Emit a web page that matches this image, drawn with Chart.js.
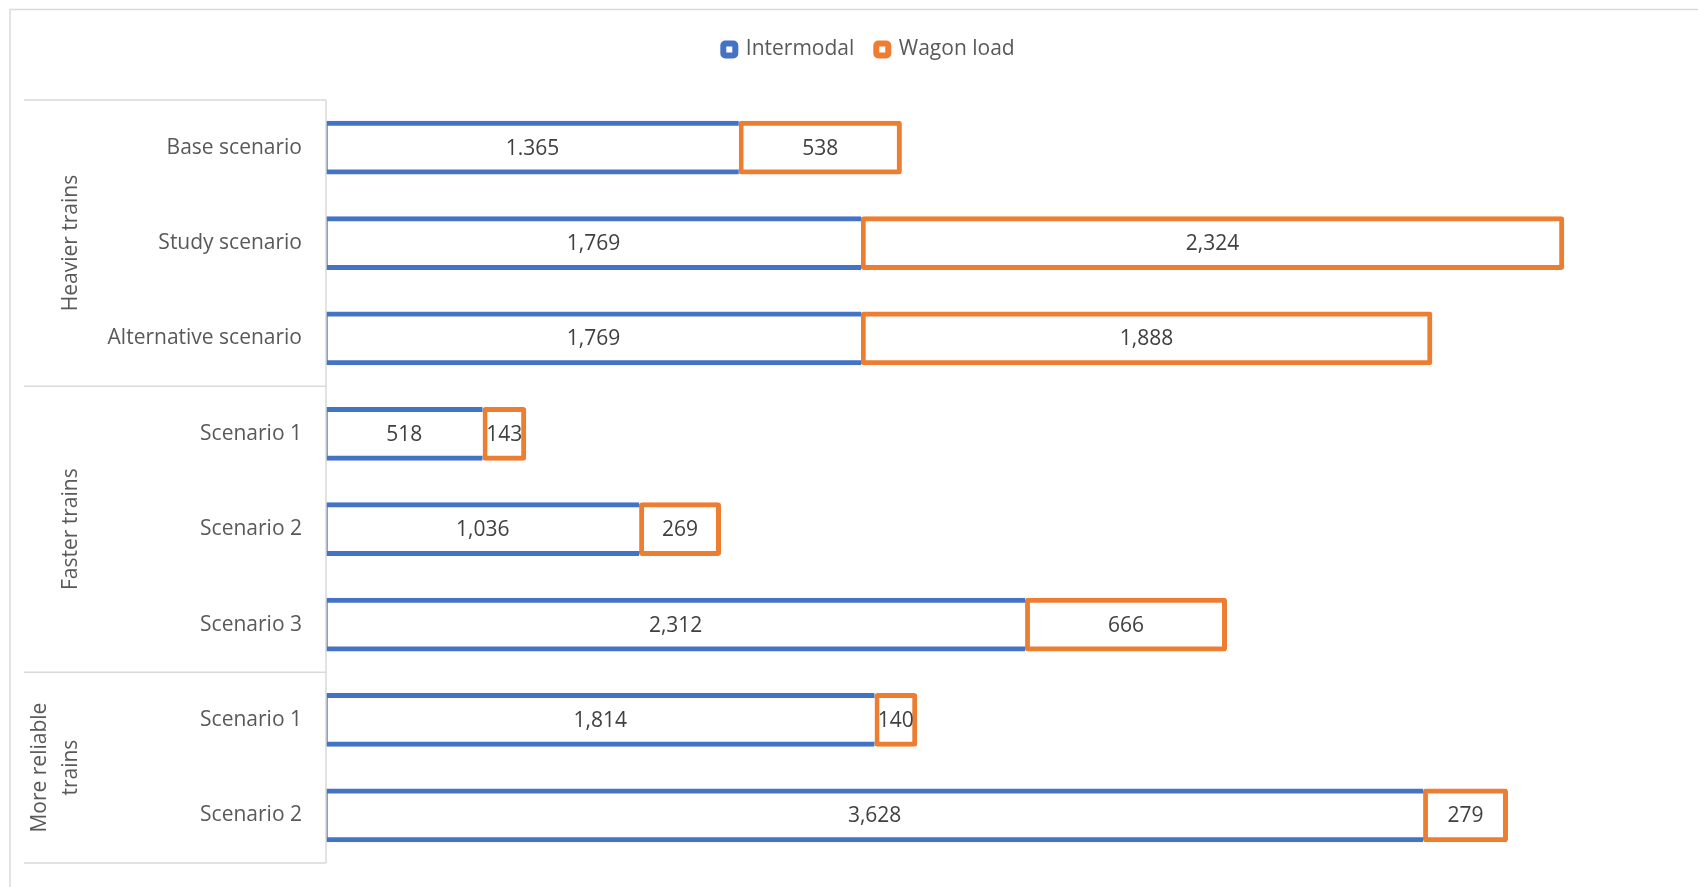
<!DOCTYPE html>
<html>
<head>
<meta charset="utf-8">
<script src="https://cdn.jsdelivr.net/npm/chart.js@4/dist/chart.umd.min.js"></script>
<style>
  html, body { margin: 0; padding: 0; background: #ffffff; }
  #wrap { width: 1698px; height: 887px; position: relative; }
  canvas { display: block; }
</style>
</head>
<body>
<div id="wrap"><canvas id="chart" width="1698" height="887"></canvas></div>
<script>
// Scenario categories, grouped by the kind of train improvement
const categories = ['Base scenario', 'Study scenario', 'Alternative scenario',
                    'Scenario 1', 'Scenario 2', 'Scenario 3',
                    'Scenario 1', 'Scenario 2'];
const groupNames = [['Heavier trains'], ['Faster trains'], ['More reliable', 'trains']];
const groupSizes = [3, 3, 2];

// Series values
const intermodal = [1365, 1769, 1769, 518, 1036, 2312, 1814, 3628];
const wagonLoad  = [538, 2324, 1888, 143, 269, 666, 140, 279];

// Value labels printed inside the bars
const intermodalLabels = ['1.365', '1,769', '1,769', '518', '1,036', '2,312', '1,814', '3,628'];
const wagonLoadLabels  = ['538', '2,324', '1,888', '143', '269', '666', '140', '279'];

const seriesNames = ['Intermodal', 'Wagon load'];
const BLUE = '#4472C4';
const ORANGE = '#ED7D31';
const GRID = '#d9d9d9';
const FONT = "'Open Sans', 'DejaVu Sans', sans-serif";
const FONT_SIZE = 21;

Chart.defaults.font.family = FONT;

// White background and light outer frame
const frame = {
  id: 'frame',
  beforeDraw(chart) {
    const ctx = chart.ctx;
    ctx.save();
    ctx.fillStyle = '#ffffff';
    ctx.fillRect(0, 0, chart.width, chart.height);
    ctx.strokeStyle = GRID;
    ctx.lineWidth = 1.5;
    ctx.beginPath();
    ctx.moveTo(10, chart.height);
    ctx.lineTo(10, 9.5);
    ctx.lineTo(chart.width, 9.5);
    ctx.stroke();
    ctx.restore();
  }
};

// Second level of the category axis: group separators, axis line and rotated group names
const groupAxis = {
  id: 'groupAxis',
  afterDraw(chart) {
    const ctx = chart.ctx;
    const y = chart.scales.y;
    const right = chart.chartArea.left;
    const left = 24;
    ctx.save();
    ctx.strokeStyle = GRID;
    ctx.lineWidth = 1.5;
    let start = 0;
    const edges = [y.getPixelForValue(-0.5)];
    groupSizes.forEach(n => {
      start += n;
      edges.push(y.getPixelForValue(start - 0.5));
    });
    ctx.beginPath();
    edges.forEach(py => {
      ctx.moveTo(left, py);
      ctx.lineTo(right, py);
    });
    ctx.moveTo(right, edges[0]);
    ctx.lineTo(right, edges[edges.length - 1]);
    ctx.stroke();

    ctx.fillStyle = '#595959';
    ctx.font = FONT_SIZE + 'px ' + FONT;
    ctx.textAlign = 'center';
    ctx.textBaseline = 'middle';
    groupNames.forEach((lines, gi) => {
      const cy = (edges[gi] + edges[gi + 1]) / 2;
      const lastX = 71;
      lines.forEach((txt, li) => {
        const cx = lastX - (lines.length - 1 - li) * 31;
        ctx.save();
        ctx.translate(cx, cy);
        ctx.rotate(-Math.PI / 2);
        ctx.fillText(txt, 0, 0);
        ctx.restore();
      });
    });
    ctx.restore();
  }
};

// Values centred inside each bar segment
const valueLabels = {
  id: 'valueLabels',
  afterDatasetsDraw(chart) {
    const ctx = chart.ctx;
    const texts = [intermodalLabels, wagonLoadLabels];
    ctx.save();
    ctx.font = FONT_SIZE + 'px ' + FONT;
    ctx.fillStyle = '#404040';
    ctx.textAlign = 'center';
    ctx.textBaseline = 'middle';
    chart.data.datasets.forEach((ds, di) => {
      const meta = chart.getDatasetMeta(di);
      meta.data.forEach((el, i) => {
        const p = el.getProps(['x', 'y', 'base'], true);
        ctx.fillText(texts[di][i], (p.x + p.base) / 2, p.y + 1);
      });
    });
    ctx.restore();
  }
};

new Chart(document.getElementById('chart'), {
  type: 'bar',
  data: {
    labels: categories,
    datasets: [
      {
        label: seriesNames[0],
        data: intermodal,
        backgroundColor: '#ffffff',
        borderColor: BLUE,
        borderWidth: { top: 5, bottom: 5, left: 2, right: 0 },
        borderSkipped: false,
        barThickness: 53
      },
      {
        label: seriesNames[1],
        data: wagonLoad,
        backgroundColor: '#ffffff',
        borderColor: ORANGE,
        borderWidth: 5,
        borderSkipped: false,
        borderRadius: { topLeft: 3, topRight: 3, bottomLeft: 3, bottomRight: 3 },
        barThickness: 53
      }
    ]
  },
  options: {
    indexAxis: 'y',
    responsive: false,
    animation: false,
    devicePixelRatio: 1,
    layout: { padding: { left: 51, right: 11, top: 17, bottom: 24 } },
    scales: {
      x: {
        stacked: true,
        position: 'top',
        min: 0,
        max: 4500,
        grid: { display: false, drawTicks: false },
        border: { display: false },
        ticks: { display: false },
        afterFit(scale) { scale.height = 30; }
      },
      y: {
        stacked: true,
        grid: { display: false, drawTicks: false },
        border: { display: false },
        ticks: { padding: 24, color: '#595959', font: { size: FONT_SIZE } },
        afterFit(scale) {
          scale.width = 275;
          scale.paddingTop = 0;
          scale.paddingBottom = 0;
        }
      }
    },
    plugins: {
      tooltip: { enabled: false },
      legend: {
        position: 'top',
        align: 'center',
        labels: {
          color: '#595959',
          font: { size: FONT_SIZE },
          boxWidth: 12,
          boxHeight: 12,
          padding: 22,
          useBorderRadius: true,
          borderRadius: 2,
          generateLabels(chart) {
            return chart.data.datasets.map((ds, i) => ({
              text: ds.label,
              fillStyle: '#ffffff',
              strokeStyle: ds.borderColor,
              lineWidth: 6,
              fontColor: '#595959',
              hidden: false,
              datasetIndex: i,
              borderRadius: 2
            }));
          }
        }
      }
    }
  },
  plugins: [frame, groupAxis, valueLabels]
});
</script>
</body>
</html>
